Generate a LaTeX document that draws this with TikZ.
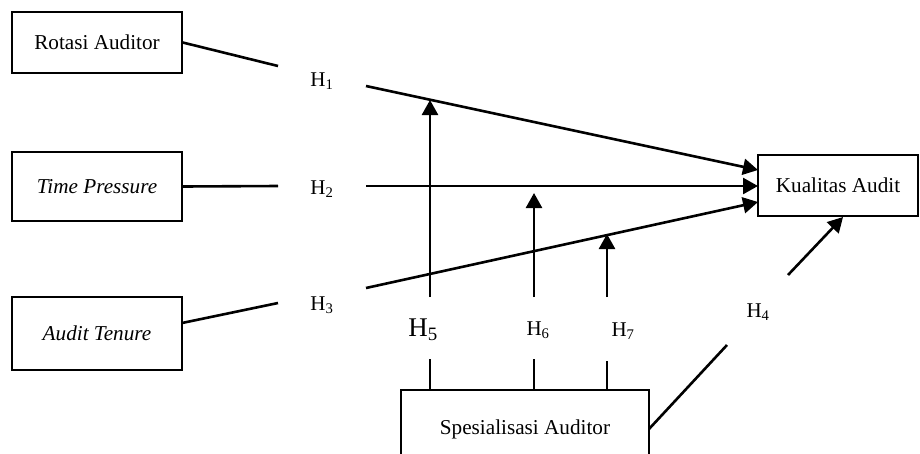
\documentclass[tikz,border=0pt]{standalone}
\usepackage{fontspec}
\setmainfont{Liberation Serif}
\usetikzlibrary{arrows.meta}
\begin{document}
\begin{tikzpicture}[x=1pt,y=-1pt,
  box/.style={draw,line width=1.5pt,inner sep=0pt,font=\fontsize{21.2}{25}\selectfont},
  hlab/.style={inner sep=0pt,font=\fontsize{21}{25}\selectfont},
  conn/.style={line width=2.6pt},
  arr/.style={line width=2.6pt,-{Triangle[length=15pt,width=16pt]}}]
\clip (0,0) rectangle (920,453);
\fill[white] (0,0) rectangle (920,453);
% boxes
\node[box,minimum width=170pt,minimum height=61pt] (ra) at (97,42.5) {Rotasi Auditor};
\node[box,minimum width=170pt,minimum height=69pt] (tp) at (97,186.5) {\itshape Time Pressure};
\node[box,minimum width=170pt,minimum height=73pt] (at) at (97,333.5) {\itshape Audit Tenure};
\node[box,minimum width=160pt,minimum height=61pt] (kq) at (838,185.5) {Kualitas Audit};
\node[box,minimum width=248pt,minimum height=78pt] (sa) at (525,429) {Spesialisasi Auditor};
% labels
\node[hlab] (h1) at (322,81) {H\textsubscript{1}};
\node[hlab] (h2) at (322,189) {H\textsubscript{2}};
\node[hlab] (h3) at (322,305) {H\textsubscript{3}};
\node[hlab] (h4) at (758,312) {H\textsubscript{4}};
\node[hlab,font=\fontsize{27}{31}\selectfont] (h5) at (423,330) {H\textsubscript{5}};
\node[hlab] (h6) at (538,330) {H\textsubscript{6}};
\node[hlab] (h7) at (623,331) {H\textsubscript{7}};
% coordinates
\coordinate (a1e) at (278,66);
\coordinate (a1s) at (366,86);
\coordinate (k1) at (758,170);
\coordinate (a2e) at (278,186);
\coordinate (a2s) at (366,186);
\coordinate (k2) at (758,186);
\coordinate (a3b) at (182,323);
\coordinate (a3e) at (278,303);
\coordinate (a3s) at (366,288);
\coordinate (k3) at (758,202);
\coordinate (h5b) at (430,359);
\coordinate (h5t) at (430,297);
\coordinate (h5a) at (430,100);
\coordinate (h6b) at (534,359);
\coordinate (h6t) at (534,297);
\coordinate (h6a) at (534,193);
\coordinate (h7b) at (607,361);
\coordinate (h7t) at (607,297);
\coordinate (h7a) at (607,234);
\coordinate (s4) at (649,429);
\coordinate (h4e) at (727,345);
\coordinate (h4s) at (788,275);
\coordinate (k4) at (843,217);
% connectors
\draw[conn] (ra.east) -- (a1e);
\draw[arr] (a1s) -- (k1);
\draw[conn] (tp.east) -- (a2e);
\draw[arr] (a2s) -- (k2);
\draw[conn] (a3b) -- (a3e);
\draw[arr] (a3s) -- (k3);
\draw[conn] (sa.north -| h5b) -- (h5b);
\draw[arr] (h5t) -- (h5a);
\draw[conn] (sa.north -| h6b) -- (h6b);
\draw[arr] (h6t) -- (h6a);
\draw[conn] (sa.north -| h7b) -- (h7b);
\draw[arr] (h7t) -- (h7a);
\draw[conn] (s4) -- (h4e);
\draw[arr] (h4s) -- (k4);
\end{tikzpicture}
\end{document}
